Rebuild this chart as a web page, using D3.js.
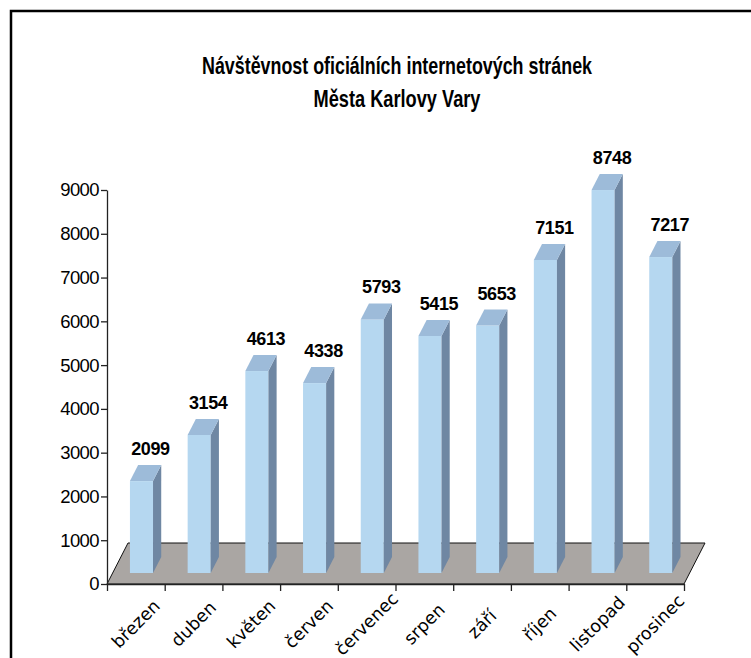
<!DOCTYPE html>
<html>
<head>
<meta charset="utf-8">
<script src="https://cdn.jsdelivr.net/npm/d3@7"></script>
<style>
  body { margin: 0; background: #fff; }
  svg { display: block; }
</style>
</head>
<body>
<div id="chart"></div>
<script>
// data
const months = ['březen', 'duben', 'květen', 'červen', 'červenec', 'srpen', 'září', 'říjen', 'listopad', 'prosinec'];
const visits = [2099, 3154, 4613, 4338, 5793, 5415, 5653, 7151, 8748, 7217];
const yTicks = [0, 1000, 2000, 3000, 4000, 5000, 6000, 7000, 8000, 9000];
const titleLines = ['Návštěvnost oficiálních internetových stránek', 'Města Karlovy Vary'];

const width = 751;
const height = 658;

let svg = d3.select('#chart')
  .append('svg')
  .attr('width', width)
  .attr('height', height);

// frame (runs off the right / bottom edge like the cropped original)
svg.append('rect')
  .attr('x', 11)
  .attr('y', 11)
  .attr('width', 900)
  .attr('height', 800)
  .attr('fill', '#fff')
  .attr('stroke', '#000')
  .attr('stroke-width', 2.5);

// title, squeezed like the original
svg.selectAll('text.title')
  .data(titleLines)
  .enter()
  .append('text')
  .classed('title', true)
  .attr('x', 397)
  .attr('y', (d, i) => i === 0 ? 74 : 107)
  .attr('text-anchor', 'middle')
  .attr('font-family', 'Liberation Sans, Arial, sans-serif')
  .attr('font-weight', 'bold')
  .attr('font-size', 24)
  .attr('textLength', (d, i) => i === 0 ? 390 : 167)
  .attr('lengthAdjust', 'spacingAndGlyphs')
  .attr('fill', '#000')
  .text(d => d);

let x = d3.scaleBand()
  .domain(months)
  .range([107, 684]);

let y = d3.scaleLinear()
  .domain([0, 9000])
  .range([584, 190]);

// index scale for the tick marks between categories
let xEdges = d3.scaleLinear()
  .domain([0, months.length])
  .range(x.range());

// 3d depth of the floor and of the bars
let depthX = 21;
let depthY = 41;
let slope = depthX / depthY;
let barFront = 11;
let barDepth = 16;
let barW = x.bandwidth() * 0.4;

// floor
let x0 = x.range()[0];
let x1 = x.range()[1];
let yb = y(0);
svg.append('polygon')
  .attr('points', [
    [x0, yb], [x1, yb], [x1 + depthX, yb - depthY], [x0 + depthX, yb - depthY]
  ].map(p => p.join(',')).join(' '))
  .attr('fill', '#aaa6a3')
  .attr('stroke', '#111')
  .attr('stroke-width', 1);

// bars
let barBase = yb - barFront;
let bars = svg.selectAll('g.bar')
  .data(months.map((m, i) => ({ month: m, value: visits[i] })))
  .enter()
  .append('g')
  .classed('bar', true);

function frontLeft(d) {
  return x(d.month) + (x.bandwidth() - barW) / 2 + barFront * slope;
}

function frontTop(d) {
  return barBase - (y(0) - y(d.value));
}

let sx = barDepth * slope;

bars.append('rect')
  .attr('x', d => frontLeft(d))
  .attr('y', d => frontTop(d))
  .attr('width', barW)
  .attr('height', d => barBase - frontTop(d))
  .attr('fill', '#b5d7f0');

bars.append('polygon')
  .attr('points', function(d) {
    let r = frontLeft(d) + barW;
    let t = frontTop(d);
    return [[r, t], [r + sx, t - barDepth], [r + sx, barBase - barDepth], [r, barBase]]
      .map(p => p.join(',')).join(' ');
  })
  .attr('fill', '#6f87a3');

bars.append('polygon')
  .attr('points', function(d) {
    let l = frontLeft(d);
    let t = frontTop(d);
    return [[l, t], [l + sx, t - barDepth], [l + barW + sx, t - barDepth], [l + barW, t]]
      .map(p => p.join(',')).join(' ');
  })
  .attr('fill', '#9dbbd9');

bars.append('text')
  .attr('x', d => frontLeft(d) + barW / 2 + 9)
  .attr('y', d => frontTop(d) - barDepth - 10)
  .attr('text-anchor', 'middle')
  .attr('font-family', 'Liberation Sans, Arial, sans-serif')
  .attr('font-weight', 'bold')
  .attr('font-size', 18)
  .attr('letter-spacing', -0.4)
  .attr('fill', '#000')
  .text(d => d.value);

// y axis
let yAxis = svg.append('g')
  .attr('transform', `translate(${x0},0)`)
  .call(d3.axisLeft(y).tickValues(yTicks).tickSize(6).tickSizeOuter(0).tickPadding(2).tickFormat(d3.format('d')));

yAxis.selectAll('text')
  .attr('font-family', 'Liberation Sans, Arial, sans-serif')
  .attr('font-size', 18.5)
  .attr('letter-spacing', -0.6)
  .attr('fill', '#000');

// x axis: tick marks on the category edges
let xAxis = svg.append('g')
  .attr('transform', `translate(0,${yb})`)
  .call(d3.axisBottom(xEdges).ticks(months.length).tickSize(7).tickSizeOuter(0).tickFormat(''));

svg.selectAll('.domain, .tick line')
  .attr('stroke', '#222')
  .attr('stroke-width', 1.3);

// category labels, turned 45 degrees
svg.selectAll('text.cat')
  .data(months)
  .enter()
  .append('text')
  .classed('cat', true)
  .attr('transform', d => `translate(${x(d) + x.bandwidth() / 2},624) rotate(-45)`)
  .attr('text-anchor', 'middle')
  .attr('dominant-baseline', 'central')
  .attr('font-family', 'DejaVu Sans, Verdana, sans-serif')
  .attr('font-size', 17.5)
  .attr('fill', '#000')
  .text(d => d);
</script>
</body>
</html>
